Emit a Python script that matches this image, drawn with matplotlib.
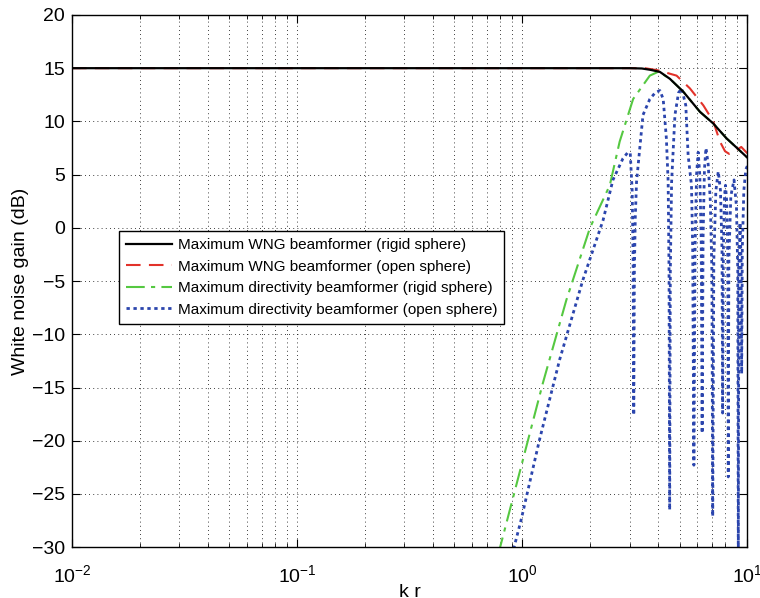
import numpy as np
import matplotlib
matplotlib.use("Agg")
import matplotlib.pyplot as plt
from matplotlib.ticker import LogLocator, MultipleLocator

plt.rcParams['font.family'] = ['Liberation Sans', 'DejaVu Sans']

# Maximum WNG beamformer, rigid sphere
wng_rigid_kr = [0.01, 2.5, 3.0, 3.4, 3.7, 4.09, 4.53, 5.19, 6.16, 7.06, 8.09, 9.0, 10.0]
wng_rigid_db = [15.0, 15.0, 15.0, 14.97, 14.85, 14.65, 14.0, 12.8, 10.9, 9.8, 8.4, 7.5, 6.6]

# Maximum WNG beamformer, open sphere
wng_open_kr = [0.01, 2.5, 3.0, 3.5, 4.01, 4.85, 5.56, 6.38, 7.06, 7.56, 7.96, 8.3, 8.8, 9.4, 10.0]
wng_open_db = [15.0, 15.0, 15.0, 15.0, 14.8, 14.3, 13.1, 11.5, 10.0, 8.1, 7.2, 6.95, 7.2, 7.6, 7.0]

# Maximum directivity beamformer, rigid sphere
di_rigid_kr = [0.78, 0.99, 1.235, 1.57, 2.0, 2.45, 2.71, 3.11, 3.69, 4.01, 4.09, 4.53, 5.19, 6.16,
               7.06, 8.09, 9.0, 10.0]
di_rigid_db = [-30.8, -22.4, -14.6, -6.8, 0.0, 4.0, 8.1, 12.1, 14.3, 14.65, 14.6, 14.0, 12.8, 10.9,
               9.8, 8.4, 7.5, 6.6]

# Maximum directivity beamformer, open sphere
di_open_kr = [0.90, 0.99, 1.194, 1.466, 1.86, 2.286, 2.53, 2.80, 2.95, 3.02, 3.08, 3.11, 3.13,
              3.15, 3.18, 3.22, 3.44, 3.69, 3.90, 4.09, 4.23, 4.37, 4.45, 4.49, 4.52,
              4.55, 4.61, 4.77, 4.95, 5.11, 5.33, 5.46, 5.65, 5.72, 5.79,
              5.86, 5.95, 6.05, 6.15, 6.24, 6.30,
              6.36, 6.45, 6.55, 6.70, 6.85, 6.96, 7.02,
              7.10, 7.25, 7.43, 7.60, 7.72, 7.77,
              7.83, 7.92, 8.00, 8.10, 8.19, 8.23,
              8.28, 8.45, 8.73, 8.95, 9.07, 9.12,
              9.17, 9.28, 9.38, 9.44,
              9.50, 9.65, 9.85, 10.0]
di_open_db = [-30.8, -27.4, -19.9, -12.4, -4.9, 0.7, 4.5, 6.5, 7.1, 7.0, 3.5, -3.0, -17.6,
              -4.0, 1.0, 4.3, 10.6, 12.1, 12.7, 12.9, 12.1, 8.4, 4.3, -4.0, -26.5,
              -4.0, 4.3, 10.6, 12.7, 13.1, 11.5, 6.8, 4.0, -2.0, -22.3,
              -2.0, 5.0, 7.1, 5.0, -1.0, -19.3,
              -1.0, 5.5, 7.5, 6.0, 2.5, -4.0, -27.1,
              -3.0, 3.5, 5.3, 3.5, -2.0, -17.4,
              -2.0, 3.0, 4.0, 2.5, -3.0, -23.4,
              -3.0, 3.0, 4.5, 2.0, -4.0, -31.0,
              -4.0, 0.5, -3.0, -13.7,
              -2.0, 3.5, 5.5, 5.8]

labels = ['Maximum WNG beamformer (rigid sphere)',
          'Maximum WNG beamformer (open sphere)',
          'Maximum directivity beamformer (rigid sphere)',
          'Maximum directivity beamformer (open sphere)']

fig = plt.figure(figsize=(7.6, 5.98), dpi=100)
ax = fig.add_axes([0.0947, 0.085, 0.8886, 0.890])

ax.plot(di_rigid_kr, di_rigid_db, color='#55c841', lw=1.5, dashes=(9, 3, 2, 3), label=labels[2])
ax.plot(di_open_kr, di_open_db, color='#2b45ad', lw=2.0, dashes=(1.2, 1.3), label=labels[3])
ax.plot(wng_open_kr, wng_open_db, color='#e2322a', lw=1.5, dashes=(7, 4), label=labels[1])
ax.plot(wng_rigid_kr, wng_rigid_db, color='black', lw=1.6, label=labels[0])

ax.set_xscale('log')
ax.set_xlim(1e-2, 1e1)
ax.set_ylim(-30, 20)
ax.yaxis.set_major_locator(MultipleLocator(5))
ax.xaxis.set_minor_locator(LogLocator(base=10, subs=np.arange(2, 10)))

ax.grid(True, which='major', color='black', lw=0.6, dashes=(1, 4))
ax.grid(True, which='minor', axis='x', color='black', lw=0.6, dashes=(1, 4))

ax.tick_params(which='both', direction='in', top=True, right=True, labelsize=14)
ax.tick_params(which='major', length=6)
ax.tick_params(which='minor', length=3)
ax.tick_params(axis='x', pad=12)
ax.tick_params(axis='y', pad=5)
for s in ax.spines.values():
    s.set_linewidth(1.0)

ax.set_xlabel('k r', fontsize=14, labelpad=-1)
ax.set_ylabel('White noise gain (dB)', fontsize=14, labelpad=2)

h, l = ax.get_legend_handles_labels()
order = [3, 2, 0, 1]
leg = ax.legend([h[i] for i in order], [l[i] for i in order],
                loc='upper left', bbox_to_anchor=(0.0696, 0.594), borderaxespad=0,
                fontsize=11.0, handlelength=3.0, handletextpad=0.4, labelspacing=0.5,
                borderpad=0.45, fancybox=False, framealpha=1, edgecolor='black')
leg.get_frame().set_linewidth(1.0)

fig.savefig('out.png', dpi=100)
